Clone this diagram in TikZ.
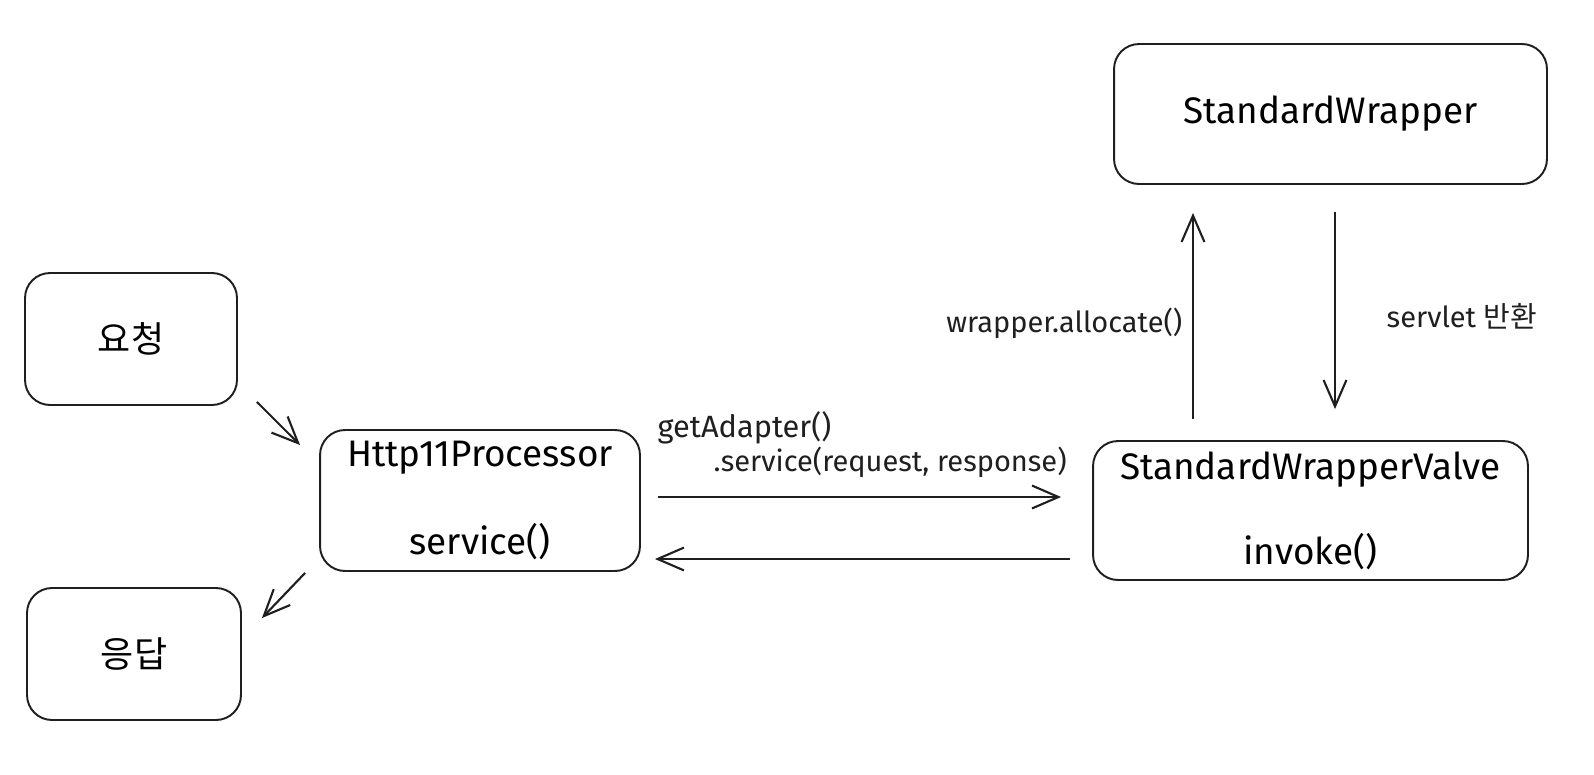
\documentclass[tikz,border=0pt]{standalone}
\usepackage{fontspec}
\setmainfont{Fira Sans}
\newfontfamily\kor{Noto Sans CJK KR}
\usepackage{tikz}
\usetikzlibrary {calc,arrows.meta}
\usetikzlibrary {positioning}

\begin{document}
\begin{tikzpicture}[x=0.02cm,y=-0.02cm,thick,
  box/.style={draw=ink,line width=1.1pt,rounded corners=0.5cm,inner sep=0pt,align=center,font=\fontsize{21}{24}\selectfont},
  arr/.style={draw=ink,line width=1.2pt,-{Straight Barb[length=15pt,width=13pt]}},
  note/.style={inner sep=0pt,text=ink,font=\fontsize{16.5}{19}\selectfont}]
\colorlet{ink}{black!88}
\useasboundingbox (0,0) rectangle (1594,774);
\node [box,minimum width=4.24cm,minimum height=2.64cm] (req) at (131,339) {\fontsize{20.5}{23}\kor 요청};
\node [box,minimum width=4.28cm,minimum height=2.64cm] (res) at (134,654) {\fontsize{20.5}{23}\kor 응답};
\node [box,minimum width=6.4cm,minimum height=2.82cm] (http) at (480,500.5) {\raisebox{-0.1cm}{Http11Processor}\\[0.92cm]\raisebox{-0.1cm}{service()}};
\node [box,minimum width=8.7cm,minimum height=2.78cm] (valve) at (1310.5,510.5) {StandardWrapperValve\\[0.86cm]invoke()};
\node [box,minimum width=8.66cm,minimum height=2.8cm] (wrap) at (1330.5,114) {StandardWrapper};
% labels
\node [note,anchor=west] (call) at (657,428) {\fontsize{17.5}{20}\selectfont getAdapter()};
\node [note,anchor=west] (call2) at (713,462) {.service(request, response)};
\node [note,anchor=east] (alloc) at (1183,323) {wrapper.allocate()};
\node [note,anchor=west] (ret) at (1386,316) {servlet {\kor 반환}};
% arrows
\draw [arr] ($ (req.south east)+(19,-4) $) -- ($ (http.north west)+(-19,16) $);
\draw [arr] ($ (http.south west)+(-14,1) $) -- ($ (res.north east)+(20,31) $);
\draw [arr] ($ (http.east)+(17,-3.5) $) -- ($ (valve.west)+(-31,-13.5) $);
\draw [arr] ($ (valve.west)+(-22,48.5) $) -- ($ (http.east)+(14,58.5) $);
\draw [arr] ($ (valve.north)+(-117.5,-21) $) -- ($ (wrap.south)+(-137.5,28) $);
\draw [arr] ($ (wrap.south)+(4.5,27) $) -- ($ (valve.north)+(24.5,-31) $);
\end{tikzpicture}
\end{document}
